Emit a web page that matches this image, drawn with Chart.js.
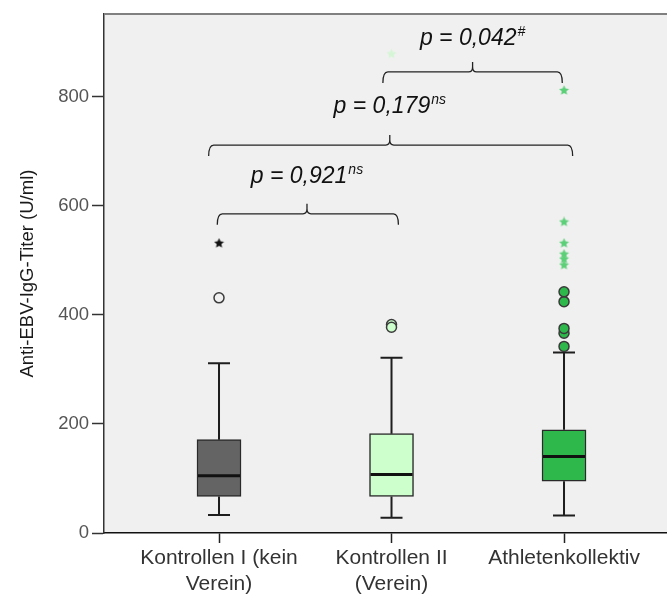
<!DOCTYPE html>
<html>
<head>
<meta charset="utf-8">
<script src="https://cdn.jsdelivr.net/npm/chart.js@4.4.1/dist/chart.umd.min.js"></script>
<style>
  html, body { margin: 0; padding: 0; background: #fff; }
</style>
</head>
<body>
<canvas id="chart" width="667" height="594"></canvas>
<script>
/* Anti-EBV-IgG box plot — boxes are floating bars, whiskers/brackets drawn on the scales. */

const groupLabels = [["Kontrollen I (kein", "Verein)"], ["Kontrollen II", "(Verein)"], ["Athletenkollektiv"]];
const groupPos = [1, 2, 3];
const whiskerLow = [33, 28, 32];
const q1 = [67, 67, 95];
const median = [105, 107, 140];
const q3 = [171, 182, 189];
const whiskerHigh = [311, 321, 331];
const circleOutliers = [[431], [382, 377], [342, 366, 375, 424, 442]];
const starOutliers = [[531], [878], [491, 502, 511, 531, 570, 811]];
const yTicks = [0, 200, 400, 600, 800];

// significance brackets (group position / titer units)
const bracketFrom = [0.99, 0.94, 1.95];
const bracketTo = [2.04, 3.05, 2.99];
const bracketMid = [1.51, 1.99, 2.47];
const bracketLevel = [585, 711, 845];
const pLevel = [642, 769, 895];
const pValues = ["p = 0,921", "p = 0,179", "p = 0,042"];
const pMarks = ["ns", "ns", "#"];

const BOX_FILL = ["#646464", "#ccffcc", "#2eb84b"];
const CIRCLE_FILL = ["#f0f0f0", "#ccffcc", "#2eb84b"];
const STAR_FILL = ["#111111", "#d6f5d6", "#5ccf78"];
const FONT = '"Liberation Sans", Arial, sans-serif';

function starImage(color, size) {
  const c = document.createElement("canvas");
  c.width = c.height = size;
  const g = c.getContext("2d");
  const r = size / 2;
  g.beginPath();
  for (let i = 0; i < 10; i++) {
    const a = -Math.PI / 2 + (i * Math.PI) / 5;
    const rad = i % 2 ? r * 0.45 : r - 0.3;
    g.lineTo(r + rad * Math.cos(a), r + rad * Math.sin(a));
  }
  g.closePath();
  g.fillStyle = color;
  g.fill();
  return c;
}

//plot background + top frame line
const frame = {
  id: "frame",
  beforeDraw(chart) {
    const { ctx, chartArea: a } = chart;
    ctx.save();
    ctx.fillStyle = "#f0f0f0";
    ctx.fillRect(a.left, a.top, a.right - a.left, a.bottom - a.top);
    ctx.restore();
  },
  afterDraw(chart) {
    const { ctx, chartArea: a } = chart;
    ctx.save();
    ctx.strokeStyle = "#808080";
    ctx.lineWidth = 2;
    ctx.beginPath();
    ctx.moveTo(a.left, a.top);
    ctx.lineTo(a.right, a.top);
    ctx.stroke();
    ctx.restore();
  },
};

//whiskers and medians on top of the boxes
const whiskers = {
  id: "whiskers",
  afterDatasetDraw(chart, args) {
    if (args.index !== 0) return;
    const { ctx, scales: { x, y } } = chart;
    ctx.save();
    ctx.strokeStyle = "#1e1e1e";
    groupPos.forEach((g, i) => {
      const cx = x.getPixelForValue(g);
      ctx.lineWidth = 2;
      ctx.beginPath();
      ctx.moveTo(cx, y.getPixelForValue(q3[i]));
      ctx.lineTo(cx, y.getPixelForValue(whiskerHigh[i]));
      ctx.moveTo(cx, y.getPixelForValue(q1[i]));
      ctx.lineTo(cx, y.getPixelForValue(whiskerLow[i]));
      ctx.moveTo(cx - 11, y.getPixelForValue(whiskerHigh[i]));
      ctx.lineTo(cx + 11, y.getPixelForValue(whiskerHigh[i]));
      ctx.moveTo(cx - 11, y.getPixelForValue(whiskerLow[i]));
      ctx.lineTo(cx + 11, y.getPixelForValue(whiskerLow[i]));
      ctx.stroke();
      ctx.lineWidth = 3;
      ctx.strokeStyle = "#111";
      ctx.beginPath();
      ctx.moveTo(cx - 21, y.getPixelForValue(median[i]));
      ctx.lineTo(cx + 21, y.getPixelForValue(median[i]));
      ctx.stroke();
      ctx.strokeStyle = "#1e1e1e";
    });
    ctx.restore();
  },
};

//curly brackets with p values
const brackets = {
  id: "brackets",
  afterDraw(chart) {
    const { ctx, scales: { x, y } } = chart;
    ctx.save();
    ctx.strokeStyle = "#222";
    ctx.fillStyle = "#111";
    ctx.lineWidth = 1.3;
    bracketLevel.forEach((lvl, i) => {
      const x1 = x.getPixelForValue(bracketFrom[i]);
      const x2 = x.getPixelForValue(bracketTo[i]);
      const xm = x.getPixelForValue(bracketMid[i]);
      const yl = y.getPixelForValue(lvl);
      ctx.beginPath();
      ctx.moveTo(x1, yl + 11);
      ctx.quadraticCurveTo(x1, yl, x1 + 5, yl);
      ctx.lineTo(xm - 4, yl);
      ctx.quadraticCurveTo(xm, yl, xm, yl - 5);
      ctx.lineTo(xm, yl - 10);
      ctx.moveTo(xm, yl - 5);
      ctx.quadraticCurveTo(xm, yl, xm + 4, yl);
      ctx.lineTo(x2 - 5, yl);
      ctx.quadraticCurveTo(x2, yl, x2, yl + 11);
      ctx.stroke();

      ctx.font = `italic 23px ${FONT}`;
      const mainW = ctx.measureText(pValues[i]).width;
      ctx.font = `italic 14px ${FONT}`;
      const supW = ctx.measureText(pMarks[i]).width;
      const left = xm - (mainW + supW + 1) / 2;
      const base = y.getPixelForValue(pLevel[i]);
      ctx.textBaseline = "alphabetic";
      ctx.textAlign = "left";
      ctx.font = `italic 23px ${FONT}`;
      ctx.fillText(pValues[i], left, base);
      ctx.font = `italic 14px ${FONT}`;
      ctx.fillText(pMarks[i], left + mainW + 1, base - 9);
    });
    ctx.restore();
  },
};

const datasets = [
  {
    type: "bar",
    data: groupPos.map((g, i) => ({ x: g, y: [q1[i], q3[i]] })),
    backgroundColor: BOX_FILL,
    borderColor: "#2a2a2a",
    borderWidth: 1.5,
    borderSkipped: false,
    barThickness: 44,
    order: 5,
  },
  ...groupPos.map((g, i) => ({
    type: "scatter",
    data: circleOutliers[i].map((v) => ({ x: g, y: v })),
    pointStyle: "circle",
    pointRadius: 5,
    backgroundColor: CIRCLE_FILL[i],
    borderColor: "#3a3a3a",
    borderWidth: 1.5,
    order: 1,
  })),
  ...groupPos.map((g, i) => ({
    type: "scatter",
    data: starOutliers[i].map((v) => ({ x: g, y: v })),
    pointStyle: starImage(STAR_FILL[i], 11),
    order: 0,
  })),
];

new Chart(document.getElementById("chart"), {
  type: "bar",
  data: { datasets },
  options: {
    responsive: false,
    animation: false,
    layout: { autoPadding: false, padding: { top: 10, right: 0, left: 0, bottom: 0 } },
    plugins: { legend: { display: false }, tooltip: { enabled: false } },
    scales: {
      x: {
        type: "linear",
        min: 0.3333,
        max: 3.597,
        offset: false,
        afterBuildTicks: (s) => { s.ticks = groupPos.map((v) => ({ value: v })); },
        afterFit: (s) => {
          s.height = 61;
          s.paddingLeft = 0;
          s.paddingRight = 0;
        },
        ticks: {
          callback: (v) => groupLabels[v - 1],
          font: { family: FONT, size: 21, lineHeight: 1.2 },
          color: "#333",
          padding: 3,
          maxRotation: 0,
          autoSkip: false,
        },
        grid: { drawOnChartArea: false, offset: false, tickLength: 10, color: "#222", tickWidth: 1.5 },
        border: { color: "#111", width: 1.5 },
      },
      y: {
        min: 0,
        max: 951,
        afterBuildTicks: (s) => { s.ticks = yTicks.map((v) => ({ value: v })); },
        afterFit: (s) => { s.width = 104; },
        ticks: { font: { family: FONT, size: 18.5 }, color: "#555", padding: 3 },
        grid: { drawOnChartArea: false, tickLength: 12, color: "#333", tickWidth: 1.5 },
        border: { color: "#333", width: 1.5 },
        title: {
          display: true,
          text: "Anti-EBV-IgG-Titer (U/ml)",
          font: { family: FONT, size: 18.5 },
          color: "#1a1a1a",
          padding: { top: 17, bottom: 0 },
        },
      },
    },
  },
  plugins: [frame, whiskers, brackets],
});
</script>
</body>
</html>
